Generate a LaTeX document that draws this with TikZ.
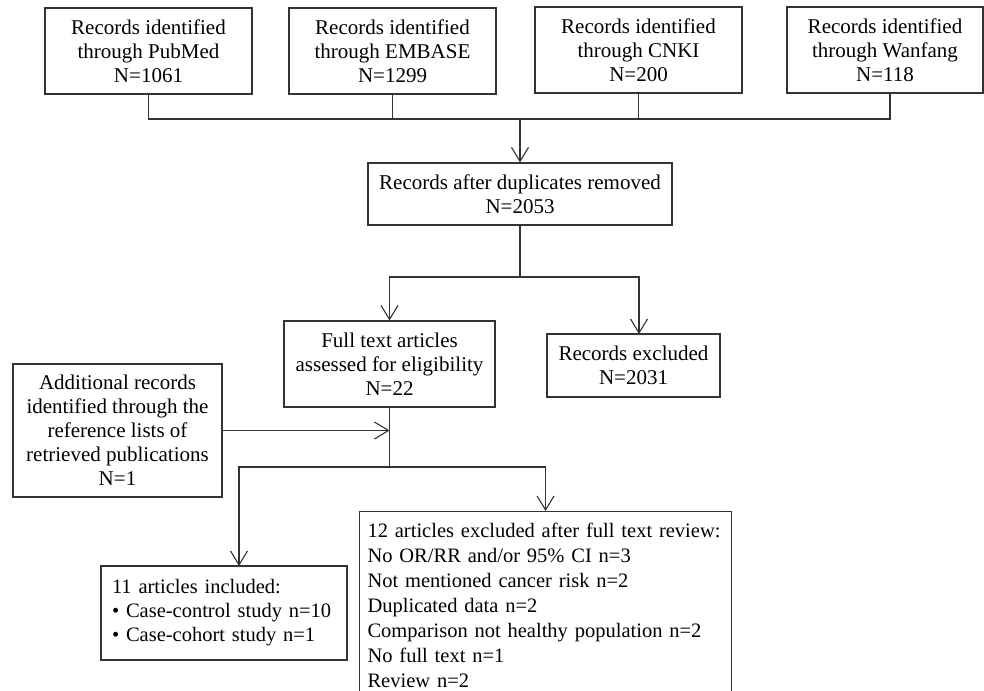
\documentclass[tikz,border=0pt]{standalone}
\usepackage{fontspec}
\setmainfont{Liberation Serif}
\usetikzlibrary{arrows.meta}
\begin{document}
\begin{tikzpicture}[x=1pt,y=-1pt,
  box/.style={draw=black!80, line width=1.1pt, align=center, inner sep=0pt, font=\fontsize{21}{24}\selectfont},
  conn/.style={draw=black!80, line width=1.1pt},
  arr/.style={conn, -{Straight Barb[length=14pt,width=17pt,line width=1.1pt]}}]
\useasboundingbox (0,0) rectangle (984,690);
\fill[white] (0,0) rectangle (984,690);
% top boxes
\node[box, minimum width=207pt, minimum height=86pt] (pub) at (148.5,51) {Records identified\\through PubMed\\N=1061};
\node[box, minimum width=207pt, minimum height=86pt] (emb) at (392.5,51) {Records identified\\through EMBASE\\N=1299};
\node[box, minimum width=207pt, minimum height=86pt] (cnki) at (638.5,50) {Records identified\\through CNKI\\N=200};
\node[box, minimum width=196pt, minimum height=86pt] (wan) at (885,50) {Records identified\\through Wanfang\\N=118};
% dup box
\node[box, minimum width=304pt, minimum height=62pt] (dup) at (520,194) {Records after duplicates removed\\N=2053};
% full text
\node[box, minimum width=211pt, minimum height=86pt] (full) at (389.5,364) {Full text articles\\assessed for eligibility\\N=22};
\node[box, minimum width=173pt, minimum height=63pt] (excl) at (633.5,365.5) {Records excluded\\N=2031};
\node[box, minimum width=209pt, minimum height=133pt] (add) at (117.5,430.5) {Additional records\\identified through the\\reference lists of\\retrieved publications\\N=1};
\node[box, minimum width=246pt, minimum height=94pt, align=left, text width=232pt, inner xsep=7pt, font=\fontsize{20.5}{24}\selectfont] (inc) at (224,613) {\hspace*{4pt}11 articles included:\\\hspace*{4pt}\textbullet\ Case-control study n=10\\\hspace*{4pt}\textbullet\ Case-cohort study n=1};
\node[box, anchor=north west, minimum width=372pt, minimum height=187pt, align=left, text width=356pt, inner xsep=8pt, font=\fontsize{20.5}{25}\selectfont] (ex12) at (359,511) {12 articles excluded after full text review:\\No OR/RR and/or 95\% CI n=3\\Not mentioned cancer risk n=2\\Duplicated data n=2\\Comparison not healthy population n=2\\No full text n=1\\Review n=2};
% connectors
\coordinate (busL) at (148.5,119);
\coordinate (busR) at (890,119);
\coordinate (bus) at (520,119);
\coordinate (wanout) at (890,93);
\draw[conn] (pub.south) -- (busL) -- (busR) -- (wanout);
\draw[conn] (emb.south) -- (emb.south |- bus);
\draw[conn] (cnki.south) -- (cnki.south |- bus);
\draw[arr] (bus) -- (dup.north);
\coordinate (split1) at (520,277);
\coordinate (exin) at (639,334);
\draw[conn] (dup.south) -- (split1);
\draw[arr] (split1) -| (full.north);
\draw[arr] (split1) -| (exin);
\coordinate (split2) at (389.5,467);
\draw[conn] (full.south) -- (split2);
\draw[arr] (add.east) -- (add.east -| full.south);
\coordinate (incin) at (239,566);
\draw[arr] (split2) -| (incin);
\draw[arr] (split2) -| (ex12.north);
\end{tikzpicture}
\end{document}
